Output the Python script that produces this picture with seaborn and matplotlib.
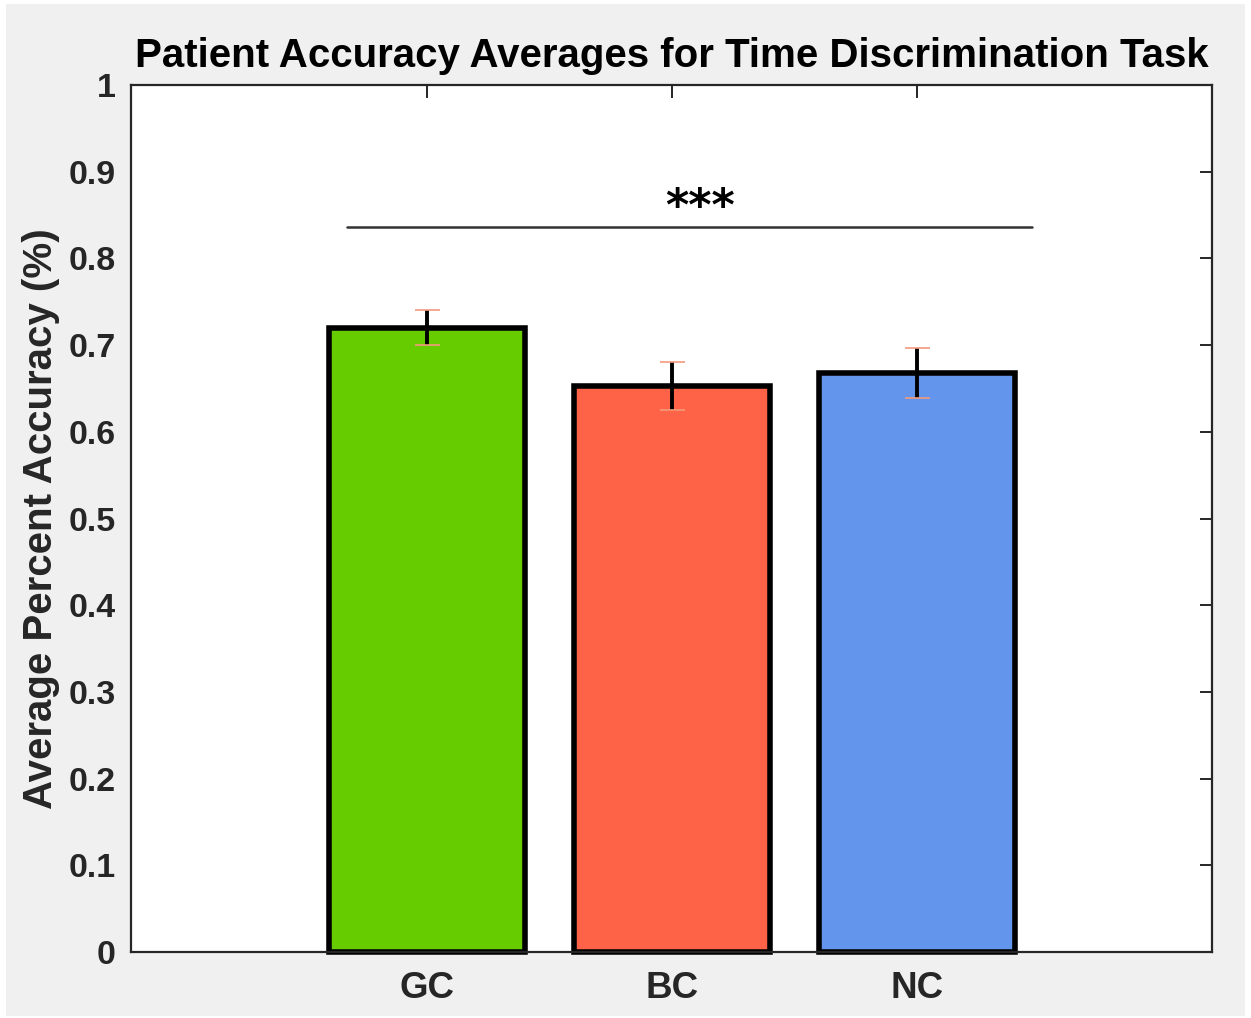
import matplotlib
matplotlib.use("Agg")
import matplotlib.pyplot as plt
from matplotlib.patches import Rectangle
import numpy as np
import seaborn as sns

# data
groups = ["GC", "BC", "NC"]
means = [0.720, 0.653, 0.668]
errs = [0.020, 0.028, 0.029]
bar_colors = ["#66cc00", "#ff6347", "#6495ed"]
y_ticks = [0, 0.1, 0.2, 0.3, 0.4, 0.5, 0.6, 0.7, 0.8, 0.9, 1]
y_tick_labels = ["0", "0.1", "0.2", "0.3", "0.4", "0.5", "0.6", "0.7", "0.8", "0.9", "1"]
sig_span = (-0.327, 2.47)
sig_height = 0.836
sig_label = "***"

sns.set_style("white")
plt.rcParams["font.family"] = ["Liberation Sans", "DejaVu Sans"]
plt.rcParams["font.weight"] = "bold"

fig = plt.figure(figsize=(12.51, 10.18), dpi=100, facecolor="white")
# grey MATLAB figure background, thin white margin around it
fig.patches.append(Rectangle((6 / 1251, 2 / 1018), 1239 / 1251, 1012 / 1018,
                             transform=fig.transFigure, facecolor="#f0f0f0",
                             edgecolor="none", zorder=-10))

ax = fig.add_axes([0.1047, 0.0648, 0.8641, 0.8517])
ax.set_facecolor("white")

sns.barplot(x=groups, y=means, hue=groups, palette=bar_colors, legend=False,
            saturation=1, edgecolor="black", linewidth=4.0, width=0.8,
            errorbar=None, ax=ax)
for p in ax.patches:
    p.set_clip_on(False)

eb = ax.errorbar(np.arange(len(groups)), means, yerr=errs, fmt="none",
                 ecolor="black", elinewidth=2.8, capsize=9, capthick=1.2, zorder=5)
for cap in eb[1]:
    cap.set_markeredgecolor("#f39a7c")
    cap.set_zorder(6)

# significance bar
ax.plot(sig_span, [sig_height, sig_height], color="#333333", lw=1.8, zorder=4)
ax.text(1.114, sig_height + 0.008, sig_label, ha="center", va="baseline",
        fontsize=32, fontweight="bold", color="black", family="DejaVu Sans")

ax.set_xlim(-1.208, 3.204)
ax.set_ylim(0, 1)
ax.set_yticks(y_ticks)
ax.set_yticklabels(y_tick_labels)

for s in ax.spines.values():
    s.set_visible(True)
    s.set_color("#262626")
    s.set_linewidth(1.6)

ax.tick_params(axis="both", direction="in", top=True, right=True, length=9,
               width=1.4, color="#262626", labelcolor="#262626")
ax.tick_params(axis="y", labelsize=24.5, pad=11)
ax.tick_params(axis="x", labelsize=26.5, pad=14)
for lab in ax.get_xticklabels() + ax.get_yticklabels():
    lab.set_fontweight("bold")

ax.set_ylabel("Average Percent Accuracy (%)", fontsize=29, fontweight="bold",
              color="#262626", labelpad=6)
ax.set_xlabel("")
ax.set_title("Patient Accuracy Averages for Time Discrimination Task",
             fontsize=29, fontweight="bold", color="black", pad=13)

fig.savefig("out.png", dpi=100, facecolor=fig.get_facecolor())
